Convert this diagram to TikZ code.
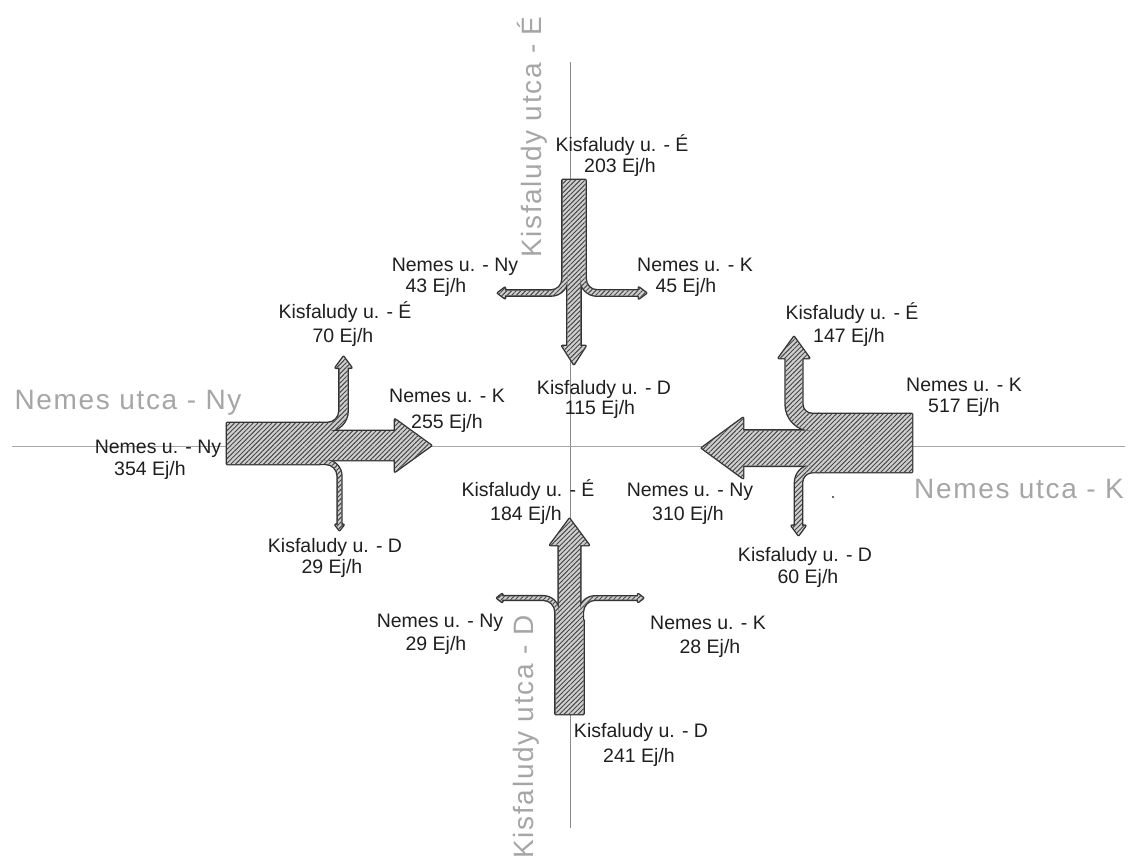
\documentclass[tikz,border=0pt]{standalone}
\usepackage{fontspec}
\setmainfont{Liberation Sans}
\newfontfamily\streetfont[LetterSpace=6]{Liberation Sans}
\usetikzlibrary{patterns.meta}

% A turning flow band: starts at #2 heading along #3 (degrees),
% #4 = +1 turns to the left of travel, -1 to the right;
% #5 width, #6 run-in before the bend, #7 bend radius, #8 leg length.
\newcommand\turnshape[8][]{%
  \pgfmathsetmacro\twS{#5/2}%
  \pgfmathsetmacro\twA{#6}%
  \pgfmathsetmacro\twRo{#7+#5/2}%
  \pgfmathsetmacro\twRi{#7-#5/2}%
  \pgfmathsetmacro\twX{#6+#7}%
  \pgfmathsetmacro\twXo{#6+#7+#5/2}%
  \pgfmathsetmacro\twXi{#6+#7-#5/2}%
  \pgfmathsetmacro\twHw{0.85*#5+1}%
  \pgfmathsetmacro\twXh{#6+#7+\twHw}%
  \pgfmathsetmacro\twXl{#6+#7-\twHw}%
  \pgfmathsetmacro\twR{#7}%
  \pgfmathsetmacro\twY{#7+#8}%
  \pgfmathsetmacro\twTip{#7+#8+1.2*#5+1}%
  \begin{scope}[shift={#2},rotate=#3,yscale=#4]
    \path[#1] (0pt,-\twS pt) -- (\twA pt,-\twS pt)
      arc[start angle=-90,end angle=0,radius=\twRo pt]
      -- (\twXo pt,\twY pt) -- (\twXh pt,\twY pt) -- (\twX pt,\twTip pt)
      -- (\twXl pt,\twY pt) -- (\twXi pt,\twY pt) -- (\twXi pt,\twR pt)
      arc[start angle=0,end angle=-90,radius=\twRi pt]
      -- (0pt,\twS pt) -- cycle;
  \end{scope}}

% all eight turning movements
\newcommand\allturns[1]{%
  % from the west
  \turnshape[#1]{(319,427)}{0}{1}{8}{8.5}{16}{43.4}
  \turnshape[#1]{(319,462)}{0}{-1}{3.5}{6.5}{14}{48.8}
  % from the east
  \turnshape[#1]{(819,422.3)}{180}{-1}{16.6}{7}{18}{46.3}
  \turnshape[#1]{(819,468.6)}{180}{1}{6.8}{6.5}{14}{43.2}
  % from the north
  \turnshape[#1]{(565,271)}{-90}{-1}{4.9}{8}{14}{46.1}
  \turnshape[#1]{(583,271)}{-90}{1}{5.1}{8}{14}{41.9}
  % from the south
  \turnshape[#1]{(557.15,621)}{90}{1}{3.3}{9}{14}{41}
  \turnshape[#1]{(581.2,621)}{90}{-1}{3.2}{9}{14}{43}
}

% approach bands with their straight-ahead arrows
\def\armW{(227,423) -- (320,423) -- (320,431) -- (395,431) -- (395,419.5) -- (431,445.5) -- (395,471.5) -- (395,460) -- (320,460) -- (320,464) -- (227,464) -- cycle}
\def\armE{(912,414) -- (818,414) -- (818,430.6) -- (743,430.6) -- (743,418) -- (702,448) -- (743,478) -- (743,465.6) -- (818,465.6) -- (818,472) -- (912,472) -- cycle}
\def\armN{(562.5,180) -- (585.5,180) -- (585.5,272) -- (580.4,272) -- (580.4,346) -- (585.4,346) -- (573.9,364) -- (562.4,346) -- (567.4,346) -- (567.4,272) -- (562.5,272) -- cycle}
\def\armS{(555.5,714) -- (583.5,714) -- (583.5,620) -- (580.2,620) -- (580.2,545) -- (588.7,545) -- (569.5,519) -- (550.3,545) -- (558.8,545) -- (558.8,620) -- (555.5,620) -- cycle}

\tikzset{
  outline/.style={draw=black!80, line width=2.8pt, line join=round},
  hatch/.style={preaction={fill=gray!38},
    pattern={Lines[angle=45,distance=3.3pt,line width=0.95pt]}, pattern color=black!72},
  axisline/.style={draw=black!45, line width=0.8pt},
  lbl/.style={font=\fontsize{19.5}{23}\selectfont, anchor=base, text=black!88, inner sep=0pt},
  street/.style={font=\streetfont\fontsize{28}{32}\selectfont, anchor=base, text=black!35, inner sep=0pt}
}

\begin{document}
\begin{tikzpicture}[x=1pt,y=-1pt]
\useasboundingbox (0,0) rectangle (1130,863);
\fill[white] (0,0) rectangle (1130,863);

% street axes
\coordinate (axN) at (570,62);
\coordinate (axS) at (570,828);
\coordinate (axW) at (12,446);
\coordinate (axE) at (1125,446);
\draw[axisline] (axN) -- (axS);
\draw[axisline, draw=black!35] (axW) -- (axE);

% flow bands: outlines first, hatched fills on top so only the outer contour shows
\path[outline] \armW;
\path[outline] \armE;
\path[outline] \armN;
\path[outline] \armS;
\allturns{outline}
\path[hatch] \armW;
\path[hatch] \armE;
\path[hatch] \armN;
\path[hatch] \armS;
\allturns{hatch}

\fill[black!80] (833,497) circle[radius=1.2pt];

% street names
\node[street, rotate=90] (stN) at (541,137) {Kisfaludy utca - É};
\node[street, rotate=90] (stS) at (533,737) {Kisfaludy utca - D};
\node[street] (stW) at (128,409) {Nemes utca - Ny};
\node[street] (stE) at (1019,498) {Nemes utca - K};

% north approach
\node[lbl] (n1) at (622,151) {Kisfaludy u. - É};
\node[lbl] (n2) at (620,172) {203 Ej/h};
\node[lbl] (nl1) at (455,271) {Nemes u. - Ny};
\node[lbl] (nl2) at (436,292) {43 Ej/h};
\node[lbl] (nr1) at (695,271) {Nemes u. - K};
\node[lbl] (nr2) at (686,292) {45 Ej/h};
\node[lbl] (ns1) at (604,394) {Kisfaludy u. - D};
\node[lbl] (ns2) at (600,414) {115 Ej/h};

% west approach
\node[lbl] (w1) at (158,453) {Nemes u. - Ny};
\node[lbl] (w2) at (150,475) {354 Ej/h};
\node[lbl] (wl1) at (345,318) {Kisfaludy u. - É};
\node[lbl] (wl2) at (343,342) {70 Ej/h};
\node[lbl] (ws1) at (447,402) {Nemes u. - K};
\node[lbl] (ws2) at (447,428) {255 Ej/h};
\node[lbl] (wr1) at (335,552) {Kisfaludy u. - D};
\node[lbl] (wr2) at (332,573) {29 Ej/h};

% south approach
\node[lbl] (s1) at (641,737) {Kisfaludy u. - D};
\node[lbl] (s2) at (639,762) {241 Ej/h};
\node[lbl] (ss1) at (528,496) {Kisfaludy u. - É};
\node[lbl] (ss2) at (526,520) {184 Ej/h};
\node[lbl] (sl1) at (440,627) {Nemes u. - Ny};
\node[lbl] (sl2) at (436,650) {29 Ej/h};
\node[lbl] (sr1) at (708,629) {Nemes u. - K};
\node[lbl] (sr2) at (710,653) {28 Ej/h};

% east approach
\node[lbl] (e1) at (964,391) {Nemes u. - K};
\node[lbl] (e2) at (964,412) {517 Ej/h};
\node[lbl] (el1) at (852,319) {Kisfaludy u. - É};
\node[lbl] (el2) at (849,342) {147 Ej/h};
\node[lbl] (es1) at (690,496) {Nemes u. - Ny};
\node[lbl] (es2) at (688,520) {310 Ej/h};
\node[lbl] (er1) at (805,561) {Kisfaludy u. - D};
\node[lbl] (er2) at (808,583) {60 Ej/h};
\end{tikzpicture}
\end{document}
